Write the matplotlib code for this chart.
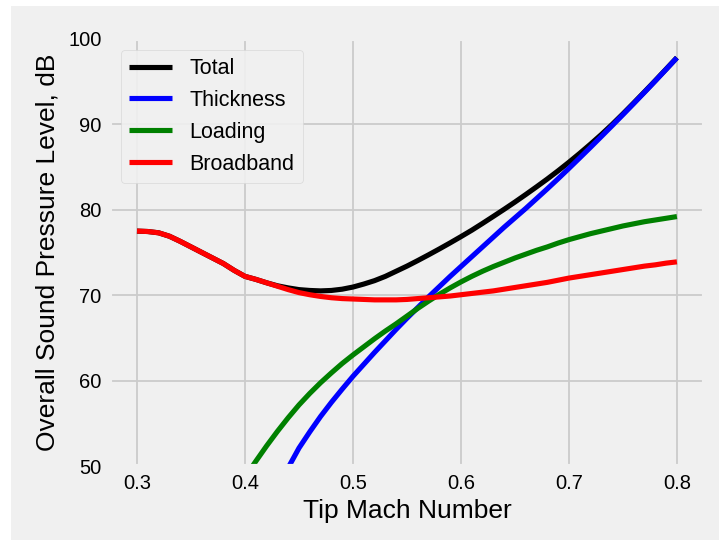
import numpy as np
import matplotlib
matplotlib.use('Agg')
import matplotlib.pyplot as plt
from matplotlib.patches import Rectangle

plt.style.use('fivethirtyeight')
plt.rcParams['font.family'] = ['Liberation Sans', 'DejaVu Sans']

# tip Mach number sweep, 0.30 .. 0.80
mach = np.round(np.arange(0.30, 0.805, 0.01), 2)

# OASPL components, dB
total = [77.5, 77.45, 77.3, 76.9, 76.3, 75.65, 75.0, 74.35, 73.7, 72.9,
         72.2, 71.85, 71.45, 71.1, 70.85, 70.65, 70.55, 70.5, 70.55, 70.7,
         70.95, 71.3, 71.7, 72.2, 72.8, 73.4, 74.05, 74.72, 75.41, 76.12,
         76.85, 77.6, 78.4, 79.22, 80.05, 80.9, 81.78, 82.68, 83.6, 84.56,
         85.56, 86.6, 87.68, 88.8, 89.98, 91.22, 92.5, 93.8, 95.12, 96.46,
         97.81]
broadband = [77.5, 77.45, 77.3, 76.9, 76.3, 75.65, 75.0, 74.35, 73.7, 72.9,
             72.2, 71.85, 71.45, 71.05, 70.65, 70.3, 70.05, 69.85, 69.7, 69.6,
             69.55, 69.5, 69.45, 69.45, 69.45, 69.5, 69.6, 69.7, 69.8, 69.9,
             70.05, 70.2, 70.35, 70.5, 70.7, 70.9, 71.1, 71.3, 71.5, 71.75,
             72.0, 72.2, 72.4, 72.6, 72.8, 73.0, 73.2, 73.4, 73.55, 73.75,
             73.9]

# thickness noise from M = 0.44 onward
thickness = [49.8, 52.1, 54.0, 55.8, 57.45, 59.0,
             60.5, 61.9, 63.3, 64.65, 66.0, 67.3, 68.55, 69.8, 71.0, 72.2,
             73.35, 74.5, 75.65, 76.8, 77.95, 79.05, 80.15, 81.3, 82.45, 83.63,
             84.84, 86.07, 87.31, 88.57, 89.84, 91.13, 92.43, 93.75, 95.08, 96.43,
             97.79]
# loading noise from M = 0.40 onward
loading = [48.7, 50.55, 52.35, 54.05, 55.65, 57.15, 58.5, 59.75, 60.9, 62.0,
           63.0, 63.95, 64.9, 65.8, 66.65, 67.55, 68.45, 69.3, 70.1, 70.85,
           71.55, 72.2, 72.8, 73.35, 73.85, 74.35, 74.8, 75.25, 75.65, 76.1,
           76.5, 76.85, 77.2, 77.5, 77.8, 78.1, 78.35, 78.6, 78.8, 79.0,
           79.2]

fig = plt.figure(figsize=(7.19, 5.4), dpi=100, facecolor='white')
fig.patches.append(Rectangle((11 / 719, 0), 1 - 11 / 719, 534 / 540,
                             transform=fig.transFigure, facecolor='#f0f0f0',
                             edgecolor='none', zorder=-1))
ax = fig.add_axes([0.153, 0.137, 0.826, 0.791])
ax.set_facecolor('#f0f0f0')

lw = 3.7
ax.plot(mach, total, color='black', lw=lw, label='Total')
ax.plot(mach[-len(thickness):], thickness, color='blue', lw=lw, label='Thickness')
ax.plot(mach[-len(loading):], loading, color='green', lw=lw, label='Loading')
ax.plot(mach, broadband, color='red', lw=lw, label='Broadband')

ax.set_xlim(0.275, 0.825)
ax.set_ylim(50, 100)
ax.set_xticks([0.3, 0.4, 0.5, 0.6, 0.7, 0.8])
ax.set_yticks([50, 60, 70, 80, 90, 100])
ax.tick_params(labelsize=14.5, pad=6)
ax.grid(True, color='#cbcbcb', lw=1.3)

ax.set_xlabel('Tip Mach Number', fontsize=19, labelpad=4)
ax.set_ylabel('Overall Sound Pressure Level, dB', fontsize=19, labelpad=6)

ax.legend(loc='upper left', fontsize=15.5, frameon=True, facecolor='#f0f0f0',
          edgecolor='#d6d6d6', framealpha=0.9)

fig.savefig('out.png', dpi=100, facecolor=fig.get_facecolor())
